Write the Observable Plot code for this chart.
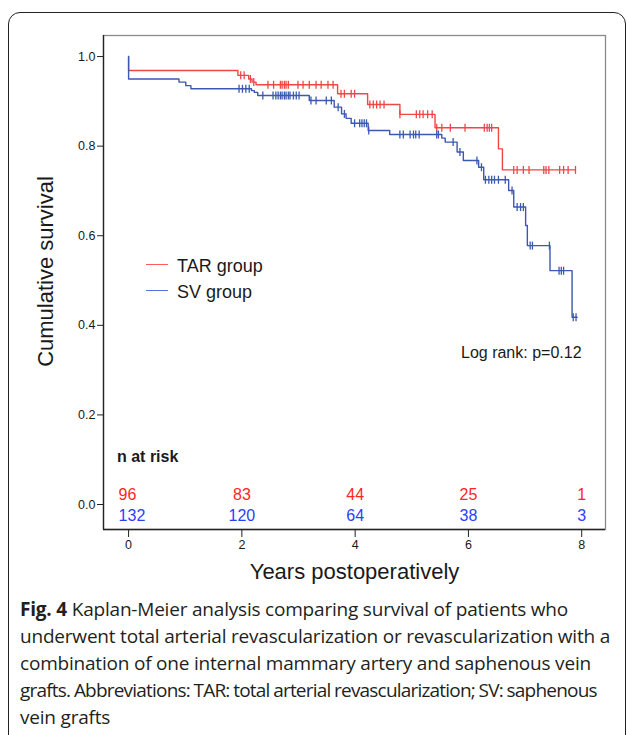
<!DOCTYPE html>
<html><head><meta charset="utf-8">
<script src="https://cdn.jsdelivr.net/npm/d3@7"></script>
<script src="https://cdn.jsdelivr.net/npm/@observablehq/plot@0.6"></script>
<style>
body{margin:0;background:#fff;}
#wrap{position:relative;width:627px;height:735px;overflow:hidden;font-family:"Liberation Sans",Arial,sans-serif;color:#1a1a1a;}
#box{position:absolute;left:8px;top:12px;width:618px;height:800px;border:1.6px solid #222;border-radius:12px;box-sizing:border-box;}
#chart{position:absolute;left:0;top:0;}
.leg{position:absolute;font-size:18px;line-height:18px;}
.sw{position:absolute;height:0;border-top:1.5px solid;}
#caption{position:absolute;left:20px;top:596px;width:605px;font-family:"Open Sans";font-size:19px;line-height:27px;color:#231f20;letter-spacing:-0.2px;white-space:nowrap;}
#caption .tight{letter-spacing:-0.8px;word-spacing:-0.5px;}
</style></head>
<body>
<div id="wrap">
  <div id="box"></div>
  <div id="chart"></div>
  <div class="sw" style="left:146px;top:264px;width:22px;border-color:#ff5a5a"></div>
  <div class="leg" style="left:177px;top:257px">TAR group</div>
  <div class="sw" style="left:146px;top:290px;width:22px;border-color:#5a6ee0"></div>
  <div class="leg" style="left:177px;top:283px">SV group</div>
  <div class="leg" style="left:461px;top:344px;font-size:16px">Log rank: p=0.12</div>
  <div class="leg" style="left:117px;top:448px;font-size:16px;font-weight:bold">n at risk</div>
  <div id="caption"><b>Fig. 4</b> Kaplan-Meier analysis comparing survival of patients who<br>underwent total arterial revascularization or revascularization with a<br>combination of one internal mammary artery and saphenous vein<br><span class="tight">grafts. Abbreviations: TAR: total arterial revascularization; SV: saphenous</span><br>vein grafts</div>
</div>
<script>
// ---- data ----
const groups = ["TAR group", "SV group"];
const xTicks = [0, 2, 4, 6, 8];
const yTicks = [0, 0.2, 0.4, 0.6, 0.8, 1.0];

const tarTime = [0, 0, 1.93, 2.12, 2.18, 2.25, 3.69, 4.22, 4.79, 5.41, 6.53, 6.60, 7.89];
const tarSurv = [1.0, 0.969, 0.958, 0.950, 0.943, 0.937, 0.917, 0.893, 0.871, 0.841, 0.794, 0.747, 0.747];
const tarCensor = [1.98, 2.04, 2.15, 2.21, 2.46, 2.56, 2.68, 2.71, 2.75, 2.78, 2.82, 2.99, 3.08, 3.19, 3.31, 3.40, 3.52, 3.61,
  3.75, 3.81, 3.93, 3.99, 4.26, 4.32, 4.38, 4.44, 4.51, 4.79, 5.08, 5.14, 5.20, 5.28, 5.36,
  5.44, 5.53, 5.68, 5.94, 6.28, 6.33, 6.37, 6.41, 6.80, 6.86, 6.97, 7.07, 7.33, 7.37, 7.42, 7.61, 7.68, 7.76, 7.89];

const svTime = [0, 0, 0.89, 1.01, 1.10, 2.17, 2.22, 2.28, 3.19, 3.63, 3.76, 3.84, 3.93, 4.23, 4.61, 5.53, 5.59, 5.80, 5.91, 6.18, 6.27, 6.71, 6.80, 7.01, 7.04, 7.44, 7.83, 7.92];
const svSurv = [1.0, 0.950, 0.943, 0.935, 0.928, 0.924, 0.920, 0.913, 0.902, 0.887, 0.872, 0.862, 0.851, 0.835, 0.826, 0.818, 0.809, 0.787, 0.768, 0.753, 0.725, 0.701, 0.664, 0.623, 0.578, 0.522, 0.418, 0.418];
const svCensor = [1.95, 2.01, 2.07, 2.13, 2.37, 2.55, 2.60, 2.64, 2.68, 2.71, 2.75, 2.78, 2.82, 2.85, 2.91, 2.96, 3.01,
  3.22, 3.31, 3.49, 3.58, 3.70, 3.81, 3.99, 4.08, 4.12, 4.16, 4.20, 4.24, 4.79, 4.85, 4.97, 5.03, 5.07, 5.13, 5.44, 5.47,
  5.73, 5.85, 6.15, 6.23, 6.30, 6.36, 6.41, 6.46, 6.53, 6.65, 6.77, 6.86, 6.92, 6.97, 7.09, 7.13, 7.43, 7.60, 7.64, 7.68, 7.85, 7.90];

const riskTimes = [0, 2, 4, 6, 8];
const tarRisk = [96, 83, 44, 25, 1];
const svRisk = [132, 120, 64, 38, 3];

// ---- build ----
const colors = {tar: "#ef4646", sv: "#3d58b0"};
const numColors = {tar: "#ff2626", sv: "#2a40ff"};
const curve = (t, s) => t.map((d, i) => ({x: d, y: s[i]}));
const survAt = (t, s, c) => { let v = s[0]; for (let i = 0; i < t.length; i++) if (t[i] <= c) v = s[i]; return v; };
const censors = (t, s, cs) => cs.map(c => ({x: c, y: survAt(t, s, c)}));
const vtick = {draw(ctx, size) { const r = Math.sqrt(size / Math.PI); ctx.moveTo(0, -r); ctx.lineTo(0, r); }};
const xDomain = [-0.443, 8.42];
const yDomain = [-0.0558, 1.047];
const risk = (vals) => riskTimes.map((t, i) => ({x: t, text: String(vals[i]), first: i === 0}));

const chart = Plot.plot({
  width: 627, height: 590,
  marginLeft: 103, marginRight: 22, marginTop: 35, marginBottom: 61,
  style: {fontFamily: "Liberation Sans, Arial, sans-serif", fontSize: "12px", color: "#1a1a1a", background: "transparent"},
  x: {domain: xDomain},
  y: {domain: yDomain},
  marks: [
    Plot.frame({stroke: "#8a8a8a", strokeWidth: 1.3}),
    Plot.ruleX([xDomain[0]], {stroke: "#222", strokeWidth: 1.3}),
    Plot.ruleY([yDomain[0]], {stroke: "#222", strokeWidth: 1.3}),
    Plot.axisY(yTicks, {tickSize: 6, tickPadding: 2, tickFormat: d => d.toFixed(1), label: null, fontSize: 12.5, stroke: "#222"}),
    Plot.axisX(xTicks, {tickSize: 8, tickPadding: 3, tickFormat: d => String(d), label: null, fontSize: 12.5, stroke: "#222"}),
    Plot.line(curve(tarTime, tarSurv), {x: "x", y: "y", curve: "step-after", stroke: colors.tar, strokeWidth: 1.4}),
    Plot.line(curve(svTime, svSurv), {x: "x", y: "y", curve: "step-after", stroke: colors.sv, strokeWidth: 1.4}),
    Plot.dot(censors(tarTime, tarSurv, tarCensor), {x: "x", y: "y", symbol: vtick, r: 4, fill: "none", stroke: colors.tar, strokeWidth: 1.3}),
    Plot.dot(censors(svTime, svSurv, svCensor), {x: "x", y: "y", symbol: vtick, r: 4, fill: "none", stroke: colors.sv, strokeWidth: 1.3}),
    Plot.text(risk(tarRisk).filter(d => d.first), {x: "x", text: "text", frameAnchor: "bottom", dy: -30, textAnchor: "start", dx: -10, fontSize: 16, fill: numColors.tar}),
    Plot.text(risk(tarRisk).filter(d => !d.first), {x: "x", text: "text", frameAnchor: "bottom", dy: -30, fontSize: 16, fill: numColors.tar}),
    Plot.text(risk(svRisk).filter(d => d.first), {x: "x", text: "text", frameAnchor: "bottom", dy: -9, textAnchor: "start", dx: -10, fontSize: 16, fill: numColors.sv}),
    Plot.text(risk(svRisk).filter(d => !d.first), {x: "x", text: "text", frameAnchor: "bottom", dy: -9, fontSize: 16, fill: numColors.sv}),
    Plot.text(["Cumulative survival"], {frameAnchor: "left", textAnchor: "middle", lineAnchor: "middle", dx: -58, dy: -11, rotate: -90, fontSize: 22, fill: "#1a1a1a"}),
    Plot.text(["Years postoperatively"], {frameAnchor: "bottom", textAnchor: "middle", dy: 49, fontSize: 22, fill: "#1a1a1a"})
  ]
});
document.getElementById("chart").appendChild(chart);
</script>
</body></html>
